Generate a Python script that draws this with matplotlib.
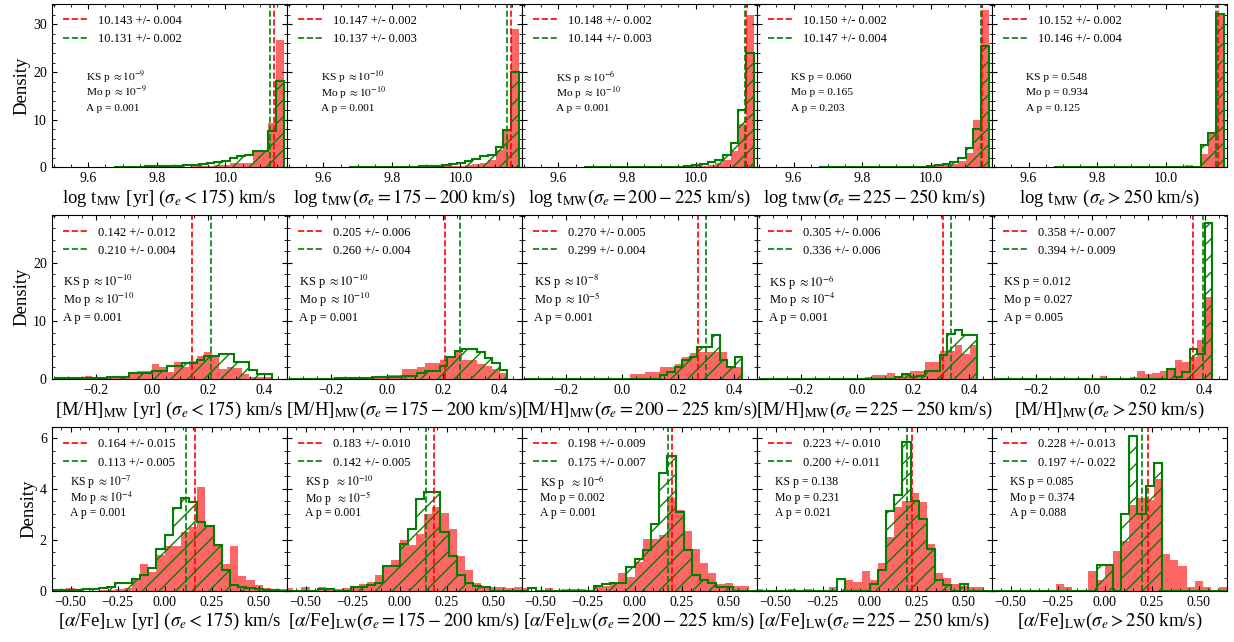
import matplotlib.pyplot as plt
import numpy as np
from matplotlib.ticker import AutoMinorLocator, MultipleLocator

plt.rcParams['font.family'] = ['Liberation Serif', 'DejaVu Serif']
plt.rcParams['mathtext.fontset'] = 'stix'
plt.rcParams['hatch.linewidth'] = 1.0
plt.rcParams['hatch.color'] = 'green'

# ---- bins (left edge, width) per row ----
age_start, age_w = 9.675, 0.0225
mh_start, mh_w = -0.347, 0.0267
afe_start, afe_w = -0.609, 0.0435

# ---- log age histograms (density), one list per sigma bin ----
age_red = [
    [0, 0, 0, 0, 0, 0, 0.05, 0.05, 0.15, 0.1, 0.2, 0.2, 0.3, 0.56, 0.56, 0.78, 0.9, 0.9, 3.6, 3.6, 9.2, 26.7],
    [0, 0, 0, 0, 0, 0, 0, 0, 0, 0, 0.05, 0.1, 0.15, 0.2, 0.35, 0.5, 0.7, 0.85, 1.55, 3.7, 7.9, 29.1],
    [0, 0, 0, 0, 0, 0, 0, 0, 0, 0, 0, 0, 0, 0.1, 0.2, 0.3, 0.5, 0.8, 1.5, 3.5, 9.0, 32.0],
    [0, 0, 0, 0, 0, 0, 0, 0, 0, 0, 0, 0, 0, 0, 0.1, 0.2, 0.4, 0.6, 1.2, 3.0, 10.0, 33.0],
    [0, 0, 0, 0, 0, 0, 0, 0, 0, 0, 0.2, 0, 0, 0, 0, 0, 0, 0.55, 0, 2.7, 7.3, 32.3],
]
age_green = [
    [0.05, 0.05, 0.1, 0.1, 0.15, 0.2, 0.15, 0.25, 0.35, 0.45, 0.56, 0.7, 0.8, 1.1, 1.4, 2.0, 2.3, 2.5, 3.5, 3.5, 7.6, 18.1],
    [0, 0, 0, 0, 0, 0, 0.05, 0.1, 0.1, 0.15, 0.2, 0.35, 0.5, 0.7, 0.85, 1.35, 1.8, 2.26, 2.6, 4.2, 7.9, 20.0],
    [0, 0, 0, 0, 0, 0, 0, 0, 0, 0, 0, 0, 0.1, 0.2, 0.4, 0.6, 1.0, 1.5, 2.5, 5.0, 12.0, 24.0],
    [0, 0, 0, 0, 0, 0, 0, 0, 0, 0, 0, 0, 0, 0.1, 0.2, 0.4, 0.6, 1.0, 2.0, 4.0, 8.0, 25.5],
    [0, 0, 0, 0, 0, 0, 0, 0, 0, 0, 0, 0, 0, 0, 0, 0, 0, 0, 0, 4.66, 7.1, 32.3],
]

# ---- [M/H] histograms ----
mh_red = [
    [0.1, 0.1, 0.1, 0.1, 0.58, 0.1, 0.1, 0.1, 0.58, 0.4, 1.0, 1.3, 1.3, 2.5, 2.0, 1.15, 3.0, 2.0, 3.05, 3.9, 4.6, 3.9, 1.7, 2.0, 1.85, 0.87, 0.4, 0.4, 0.4],
    [0, 0, 0, 0, 0, 0, 0.17, 0.17, 0.17, 0.17, 0.17, 0.58, 0.58, 0.75, 0.75, 1.73, 1.73, 2.1, 2.7, 2.7, 3.3, 3.75, 5.0, 3.3, 3.3, 2.6, 2.3, 1.73, 1.0],
    [0, 0, 0, 0, 0, 0, 0, 0, 0, 0, 0.17, 0, 0, 0, 0.87, 0.87, 1.15, 1.15, 2.0, 2.0, 2.6, 3.75, 4.4, 4.6, 4.6, 4.6, 4.6, 2.0, 2.0],
    [0, 0, 0, 0, 0, 0, 0, 0, 0, 0, 0, 0, 0.17, 0, 0.4, 0.75, 0.75, 1.0, 0.58, 0.87, 1.33, 1.33, 2.9, 2.9, 4.8, 4.8, 5.8, 4.3, 5.9],
    [0, 0, 0, 0, 0, 0, 0, 0, 0, 0, 0, 0, 0, 0, 0.58, 0, 0, 0, 0.4, 1.33, 0.87, 1.0, 1.45, 1.7, 3.2, 2.9, 3.75, 6.75, 14.2],
]
mh_green = [
    [0.1, 0.1, 0.1, 0.1, 0.1, 0.15, 0.2, 0.3, 0.3, 0.35, 1.0, 1.0, 1.0, 1.45, 1.45, 2.2, 2.2, 2.8, 2.8, 3.2, 3.9, 3.9, 4.3, 4.3, 3.0, 3.0, 1.55, 0.87, 0.87],
    [0, 0, 0, 0, 0, 0, 0.1, 0.1, 0.1, 0.1, 0.2, 0.25, 0.3, 0.35, 0.4, 0.58, 0.58, 1.0, 1.33, 1.33, 2.3, 3.75, 4.9, 5.2, 5.2, 4.6, 3.6, 2.7, 1.56],
    [0, 0, 0, 0, 0, 0, 0, 0, 0, 0, 0, 0, 0, 0, 0, 0, 0, 0, 0.75, 1.15, 2.0, 3.2, 3.75, 5.5, 5.5, 7.6, 3.2, 2.0, 3.75],
    [0, 0, 0, 0, 0, 0, 0, 0, 0, 0, 0, 0, 0, 0, 0, 0, 0, 0, 0.4, 0.87, 0.3, 0.58, 1.45, 1.45, 4.2, 7.7, 8.4, 7.6, 7.6],
    [0, 0, 0, 0, 0, 0, 0, 0, 0, 0, 0, 0, 0, 0, 0, 0, 0, 0, 0, 0, 0, 0, 0, 1.7, 0.3, 1.15, 5.1, 4.3, 26.9],
]

# ---- [alpha/Fe] histograms ----
afe_red = [
    [0, 0, 0.09, 0, 0, 0, 0.03, 0.03, 0.05, 0.1, 0.44, 1.04, 0.74, 1.39, 1.74, 1.74, 2.3, 2.5, 4.05, 2.52, 1.78, 1.04, 1.74, 0.57, 0.42, 0.22, 0.09, 0.05, 0.05],
    [0.09, 0, 0.13, 0, 0.13, 0.08, 0.08, 0.1, 0.2, 0.26, 0.35, 0.61, 0.97, 1.22, 1.97, 1.78, 2.23, 3.0, 3.3, 3.04, 2.43, 1.35, 0.83, 0.29, 0.16, 0.13, 0.13, 0.09, 0.13],
    [0.1, 0, 0, 0.09, 0, 0.06, 0.06, 0.06, 0, 0.22, 0.2, 0.29, 0.68, 0.55, 1.13, 2.04, 2.04, 2.17, 3.64, 3.17, 2.36, 1.65, 1.09, 0.7, 0.26, 0.32, 0.18, 0.18, 0],
    [0.06, 0, 0, 0, 0.06, 0, 0.06, 0, 0, 0.16, 0, 0.42, 0.35, 0.78, 0.42, 1.09, 2.1, 3.27, 3.5, 3.82, 3.47, 1.82, 0.68, 0.48, 0.26, 0.2, 0.16, 0.16, 0],
    [0, 0, 0, 0, 0, 0, 0, 0, 0.26, 0.13, 0, 0, 0.78, 0.42, 0.96, 1.55, 1.94, 3.36, 3.62, 3.56, 4.4, 1.43, 1.19, 0.97, 0.13, 0.38, 0.13, 0, 0.13],
]
afe_green = [
    [0.03, 0.03, 0.03, 0.03, 0.05, 0.05, 0.1, 0.15, 0.29, 0.31, 0.44, 0.63, 0.9, 1.65, 2.2, 3.25, 3.64, 3.47, 2.69, 2.52, 1.78, 0.8, 0.22, 0.16, 0.09, 0.05, 0.03, 0.03, 0],
    [0, 0, 0, 0, 0.06, 0.06, 0, 0, 0.16, 0.16, 0.22, 0.3, 0.97, 0.97, 1.84, 2.43, 3.6, 3.86, 3.86, 2.3, 1.35, 0.61, 0.29, 0.2, 0.16, 0, 0, 0, 0],
    [0, 0.09, 0, 0, 0, 0, 0, 0, 0, 0.2, 0.26, 0.29, 0.29, 0.94, 1.26, 1.58, 2.62, 4.6, 5.29, 3.08, 1.58, 0.61, 0.42, 0.31, 0.16, 0.13, 0, 0, 0],
    [0, 0, 0, 0, 0, 0, 0, 0, 0, 0, 0.44, 0, 0, 0, 0.26, 0.83, 3.14, 3.77, 5.84, 3.53, 2.82, 1.65, 0.42, 0.22, 0, 0.26, 0, 0, 0],
    [0, 0, 0, 0, 0, 0, 0, 0, 0, 0, 0, 0, 0, 1.0, 1.0, 0, 3.0, 6.07, 3.0, 4.1, 5.0, 0, 0, 0, 0, 0, 0, 0, 0],
]

# ---- means +/- errors (red, green) ----
age_mean_red = [(10.143, 0.004), (10.147, 0.002), (10.148, 0.002), (10.150, 0.002), (10.152, 0.002)]
age_mean_green = [(10.131, 0.002), (10.137, 0.003), (10.144, 0.003), (10.147, 0.004), (10.146, 0.004)]
mh_mean_red = [(0.142, 0.012), (0.205, 0.006), (0.270, 0.005), (0.305, 0.006), (0.358, 0.007)]
mh_mean_green = [(0.210, 0.004), (0.260, 0.004), (0.299, 0.004), (0.336, 0.006), (0.394, 0.009)]
afe_mean_red = [(0.164, 0.015), (0.183, 0.010), (0.198, 0.009), (0.223, 0.010), (0.228, 0.013)]
afe_mean_green = [(0.113, 0.005), (0.142, 0.005), (0.175, 0.007), (0.200, 0.011), (0.197, 0.022)]

# ---- test p-values (KS, Mo, A) ----
age_stats = [
    ['KS p $\\approx 10^{-9}$', 'Mo p $\\approx 10^{-9}$', 'A p = 0.001'],
    ['KS p $\\approx 10^{-10}$', 'Mo p $\\approx 10^{-10}$', 'A p = 0.001'],
    ['KS p $\\approx 10^{-6}$', 'Mo p $\\approx 10^{-10}$', 'A p = 0.001'],
    ['KS p = 0.060', 'Mo p = 0.165', 'A p = 0.203'],
    ['KS p = 0.548', 'Mo p = 0.934', 'A p = 0.125'],
]
mh_stats = [
    ['KS p $\\approx 10^{-10}$', 'Mo p $\\approx 10^{-10}$', 'A p = 0.001'],
    ['KS p $\\approx 10^{-10}$', 'Mo p $\\approx 10^{-10}$', 'A p = 0.001'],
    ['KS p $\\approx 10^{-8}$', 'Mo p $\\approx 10^{-5}$', 'A p = 0.001'],
    ['KS p $\\approx 10^{-6}$', 'Mo p $\\approx 10^{-4}$', 'A p = 0.001'],
    ['KS p = 0.012', 'Mo p = 0.027', 'A p = 0.005'],
]
afe_stats = [
    ['KS p $\\approx 10^{-7}$', 'Mo p $\\approx 10^{-4}$', 'A p = 0.001'],
    ['KS p  $\\approx 10^{-10}$', 'Mo p  $\\approx 10^{-5}$', 'A p = 0.001'],
    ['KS p  $\\approx 10^{-6}$', 'Mo p = 0.002', 'A p = 0.001'],
    ['KS p = 0.138', 'Mo p = 0.231', 'A p = 0.021'],
    ['KS p = 0.085', 'Mo p = 0.374', 'A p = 0.088'],
]

# ---- axis labels ----
age_xlabels = ['log t$_{\\rm MW}$ [yr] ($\\sigma_e < 175$) km/s',
               'log t$_{\\rm MW}$($\\sigma_e = 175 - 200$ km/s)',
               'log t$_{\\rm MW}$($\\sigma_e = 200 - 225$ km/s)',
               'log t$_{\\rm MW}$($\\sigma_e = 225 - 250$ km/s)',
               'log t$_{\\rm MW}$ ($\\sigma_e > 250$ km/s)']
mh_xlabels = ['[M/H]$_{\\rm MW}$ [yr] ($\\sigma_e < 175$) km/s',
              '[M/H]$_{\\rm MW}$($\\sigma_e = 175 - 200$ km/s)',
              '[M/H]$_{\\rm MW}$($\\sigma_e = 200 - 225$ km/s)',
              '[M/H]$_{\\rm MW}$($\\sigma_e = 225 - 250$ km/s)',
              '[M/H]$_{\\rm MW}$($\\sigma_e > 250$ km/s)']
afe_xlabels = ['[$\\alpha$/Fe]$_{\\rm LW}$ [yr] ($\\sigma_e < 175$) km/s',
               '[$\\alpha$/Fe]$_{\\rm LW}$($\\sigma_e = 175 - 200$ km/s)',
               '[$\\alpha$/Fe]$_{\\rm LW}$($\\sigma_e = 200 - 225$ km/s)',
               '[$\\alpha$/Fe]$_{\\rm LW}$($\\sigma_e = 225 - 250$ km/s)',
               '[$\\alpha$/Fe]$_{\\rm LW}$($\\sigma_e > 250$ km/s)']

rows = [
    dict(start=age_start, w=age_w, red=age_red, green=age_green, mr=age_mean_red, mg=age_mean_green,
         stats=age_stats, xlabels=age_xlabels, xlim=(9.493, 10.179), ylim=(0, 34.4),
         xmaj=0.2, ymaj=10, tx=0.145, ty=(0.55, 0.455, 0.36), fs=8.2),
    dict(start=mh_start, w=mh_w, red=mh_red, green=mh_green, mr=mh_mean_red, mg=mh_mean_green,
         stats=mh_stats, xlabels=mh_xlabels, xlim=(-0.357, 0.48), ylim=(0, 28.2),
         xmaj=0.2, ymaj=10, tx=0.05, ty=(0.59, 0.485, 0.375), fs=9),
    dict(start=afe_start, w=afe_w, red=afe_red, green=afe_green, mr=afe_mean_red, mg=afe_mean_green,
         stats=afe_stats, xlabels=afe_xlabels, xlim=(-0.6, 0.65), ylim=(0, 6.42),
         xmaj=0.25, ymaj=2, tx=0.078, ty=(0.662, 0.567, 0.476), fs=8.5),
]

fig = plt.figure(figsize=(12.34, 6.42), dpi=100)
gs = fig.add_gridspec(3, 5, left=0.0419, right=0.9943, top=0.9945, bottom=0.0799,
                      wspace=0, hspace=0.294)

for r, row in enumerate(rows):
    for c in range(5):
        ax = fig.add_subplot(gs[r, c])
        hr = np.array(row['red'][c])
        hg = np.array(row['green'][c])
        er = row['start'] + row['w'] * np.arange(len(hr) + 1)
        eg = row['start'] + row['w'] * np.arange(len(hg) + 1)

        ax.hist(er[:-1], bins=er, weights=hr, color='red', alpha=0.6)
        ax.hist(eg[:-1], bins=eg, weights=hg, histtype='step', color='green',
                edgecolor='green', lw=1.5, hatch='//')

        m, e = row['mr'][c]
        ax.axvline(m, color='red', ls='--', lw=1.2, label=f'{m:.3f} +/- {e:.3f}')
        m, e = row['mg'][c]
        ax.axvline(m, color='green', ls='--', lw=1.2, label=f'{m:.3f} +/- {e:.3f}')
        ax.legend(loc='upper left', frameon=False, fontsize=9)

        for s, y in zip(row['stats'][c], row['ty']):
            ax.text(row['tx'], y, s, transform=ax.transAxes, fontsize=row['fs'], va='center')

        ax.set_xlim(row['xlim'])
        ax.set_ylim(row['ylim'])
        ax.xaxis.set_major_locator(MultipleLocator(row['xmaj']))
        ax.yaxis.set_major_locator(MultipleLocator(row['ymaj']))
        ax.xaxis.set_minor_locator(AutoMinorLocator())
        ax.yaxis.set_minor_locator(AutoMinorLocator())
        ax.tick_params(which='both', direction='in', top=True, right=True, labelsize=10)
        ax.set_xlabel(row['xlabels'][c], fontsize=13.5, labelpad=2)
        if c == 0:
            ax.set_ylabel('Density', fontsize=13.5, labelpad=2)
        else:
            ax.set_yticklabels([])

plt.savefig('out.png', dpi=100)
